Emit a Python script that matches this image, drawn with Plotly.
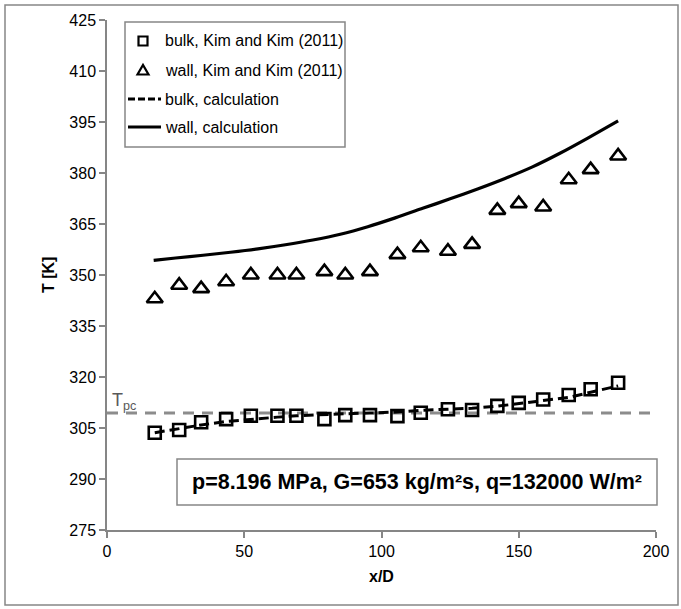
import plotly.graph_objects as go

# ---- data -------------------------------------------------------------
# x/D positions of the measured points (Kim and Kim, 2011)
x_exp = [17.4, 26.3, 34.3, 43.4, 52.4, 62.1, 69.0, 79.2, 86.8, 95.8,
         105.8, 114.3, 124.2, 133.0, 142.2, 150.0, 158.9, 168.2, 176.2, 186.2]
# measured bulk and wall temperatures [K]
t_bulk_exp = [303.6, 304.4, 306.7, 307.6, 308.6, 308.6, 308.6, 307.6, 308.8, 308.8,
              308.5, 309.5, 310.5, 310.3, 311.5, 312.4, 313.4, 314.7, 316.4, 318.3]
t_wall_exp = [343, 347, 346, 348, 350, 350, 350, 351, 350, 351,
              356, 358, 357, 359, 369, 371, 370, 378, 381, 385]

# calculated bulk temperature
x_calc_bulk = [17.4, 26.3, 34.3, 43.4, 52.4, 62.1, 69.0, 79.2, 86.8, 95.8,
               105.8, 114.3, 124.2, 133.0, 142.2, 150.0, 158.9, 168.2, 176.2, 186.2]
t_bulk_calc = [303.6, 304.9, 305.9, 306.9, 307.6, 308.2, 308.6, 309.0, 309.2, 309.4,
               309.7, 310.2, 310.5, 310.8, 311.4, 312.2, 313.1, 314.0, 315.5, 317.4]

# calculated wall temperature
x_calc_wall = [17, 25, 35, 45, 55, 65, 75, 85, 95, 105,
               115, 125, 135, 145, 155, 165, 175, 186.2]
t_wall_calc = [354.3, 355.0, 355.8, 356.7, 357.7, 358.9, 360.3, 362.0, 364.2, 366.8,
               369.6, 372.4, 375.3, 378.4, 381.8, 385.8, 390.2, 395.3]

T_PC = 309.4  # pseudo-critical temperature [K]

legend_labels = ["bulk, Kim and Kim (2011)", "wall, Kim and Kim (2011)",
                 "bulk, calculation", "wall, calculation"]
condition_text = "p=8.196 MPa, G=653 kg/m²s, q=132000 W/m²"

x_ticks = [0, 50, 100, 150, 200]
y_range = [275, 425]
y_step = 15

# ---- page geometry ----------------------------------------------------
W, H = 681, 609
ML, MR, MT, MB = 107, 25, 20, 79
PW, PH = W - ML - MR, H - MT - MB

FONT = "Liberation Sans, Arial, sans-serif"
AXIS_GREY = "#868686"
FS = 16


def fx(px):
    return (px - ML) / PW


def fy(py):
    return 1 - (py - MT) / PH


fig = go.Figure()

fig.add_trace(go.Scatter(
    x=x_exp, y=t_bulk_exp, mode="markers", name=legend_labels[0],
    marker=dict(symbol="square-open", size=12, color="black",
                line=dict(width=2.6, color="black")),
    showlegend=False))
fig.add_trace(go.Scatter(
    x=x_exp, y=t_wall_exp, mode="markers", name=legend_labels[1],
    marker=dict(symbol="triangle-up-open", size=14, color="black",
                line=dict(width=2.6, color="black")),
    showlegend=False))
fig.add_trace(go.Scatter(
    x=x_calc_bulk, y=t_bulk_calc, mode="lines", name=legend_labels[2],
    line=dict(color="black", width=3, dash="10px,5px"),
    showlegend=False))
fig.add_trace(go.Scatter(
    x=x_calc_wall, y=t_wall_calc, mode="lines", name=legend_labels[3],
    line=dict(color="black", width=3.2, shape="spline", smoothing=0.8),
    showlegend=False))

shapes = []
annotations = []

# pseudo-critical temperature reference line
shapes.append(dict(type="line", xref="x", yref="y", x0=0, x1=200, y0=T_PC, y1=T_PC,
                   line=dict(color="#8c8c8c", width=3, dash="11px,8px"), layer="below"))
annotations.append(dict(xref="paper", yref="paper", x=fx(110), y=fy(415),
                        xanchor="left", yanchor="bottom", showarrow=False,
                        text="T<sub>pc</sub>", font=dict(family=FONT, size=18, color="#595959")))

# legend box
lg_x0, lg_x1, lg_y0, lg_y1 = 125, 345, 22, 147
shapes.append(dict(type="rect", xref="paper", yref="paper",
                   x0=fx(lg_x0), x1=fx(lg_x1), y0=fy(lg_y1), y1=fy(lg_y0),
                   line=dict(color=AXIS_GREY, width=1.5), fillcolor="white"))
rows = [41, 70, 99, 127]
mk_x = 143
# square sample
s = 4.5
shapes.append(dict(type="rect", xref="paper", yref="paper",
                   x0=fx(mk_x - s), x1=fx(mk_x + s), y0=fy(rows[0] + s), y1=fy(rows[0] - s),
                   line=dict(color="black", width=2.2)))
# triangle sample
tri = "M {:.5f},{:.5f} L {:.5f},{:.5f} L {:.5f},{:.5f} Z".format(
    fx(mk_x - 5.5), fy(rows[1] + 4.5), fx(mk_x + 5.5), fy(rows[1] + 4.5), fx(mk_x), fy(rows[1] - 5))
shapes.append(dict(type="path", xref="paper", yref="paper", path=tri,
                   line=dict(color="black", width=2.2)))
# line samples
shapes.append(dict(type="line", xref="paper", yref="paper",
                   x0=fx(128), x1=fx(161), y0=fy(rows[2]), y1=fy(rows[2]),
                   line=dict(color="black", width=3, dash="7px,3px")))
shapes.append(dict(type="line", xref="paper", yref="paper",
                   x0=fx(128), x1=fx(161), y0=fy(rows[3]), y1=fy(rows[3]),
                   line=dict(color="black", width=3.2)))
for lbl, ry in zip(legend_labels, rows):
    annotations.append(dict(xref="paper", yref="paper", x=fx(163), y=fy(ry),
                            xanchor="left", yanchor="middle", showarrow=False,
                            text=lbl, font=dict(family=FONT, size=FS, color="black")))

# operating-condition box
bx0, bx1, by0, by1 = 177, 657, 459, 505
shapes.append(dict(type="rect", xref="paper", yref="paper",
                   x0=fx(bx0), x1=fx(bx1), y0=fy(by1), y1=fy(by0),
                   line=dict(color=AXIS_GREY, width=1.5), fillcolor="white"))
annotations.append(dict(xref="paper", yref="paper", x=fx((bx0 + bx1) / 2), y=fy((by0 + by1) / 2),
                        xanchor="center", yanchor="middle", showarrow=False,
                        text="<b>" + condition_text + "</b>",
                        font=dict(family=FONT, size=21.5, color="black")))

# axis titles
annotations.append(dict(xref="paper", yref="paper", x=fx(48), y=0.5,
                        xanchor="center", yanchor="middle", showarrow=False, textangle=-90,
                        text="<b>T [K]</b>", font=dict(family=FONT, size=FS, color="black")))
annotations.append(dict(xref="paper", yref="paper", x=0.5, y=fy(576),
                        xanchor="center", yanchor="middle", showarrow=False,
                        text="<b>x/D</b>", font=dict(family=FONT, size=FS, color="black")))

# chart frame
shapes.append(dict(type="rect", xref="paper", yref="paper",
                   x0=fx(5), x1=fx(678), y0=fy(605), y1=fy(5),
                   line=dict(color=AXIS_GREY, width=1.5)))

axis_common = dict(showgrid=False, zeroline=False, showline=True, linecolor=AXIS_GREY,
                   linewidth=1.5, ticks="outside", ticklen=6, tickwidth=1.5,
                   tickcolor=AXIS_GREY, tickfont=dict(family=FONT, size=FS, color="black"))

fig.update_layout(
    width=W, height=H,
    margin=dict(l=ML, r=MR, t=MT, b=MB, pad=0),
    paper_bgcolor="white", plot_bgcolor="white",
    showlegend=False,
    xaxis=dict(range=[0, 200], tickvals=x_ticks, **axis_common),
    yaxis=dict(range=y_range, tick0=y_range[0], dtick=y_step, **axis_common),
    shapes=shapes, annotations=annotations,
)

fig.write_html("out.html")
